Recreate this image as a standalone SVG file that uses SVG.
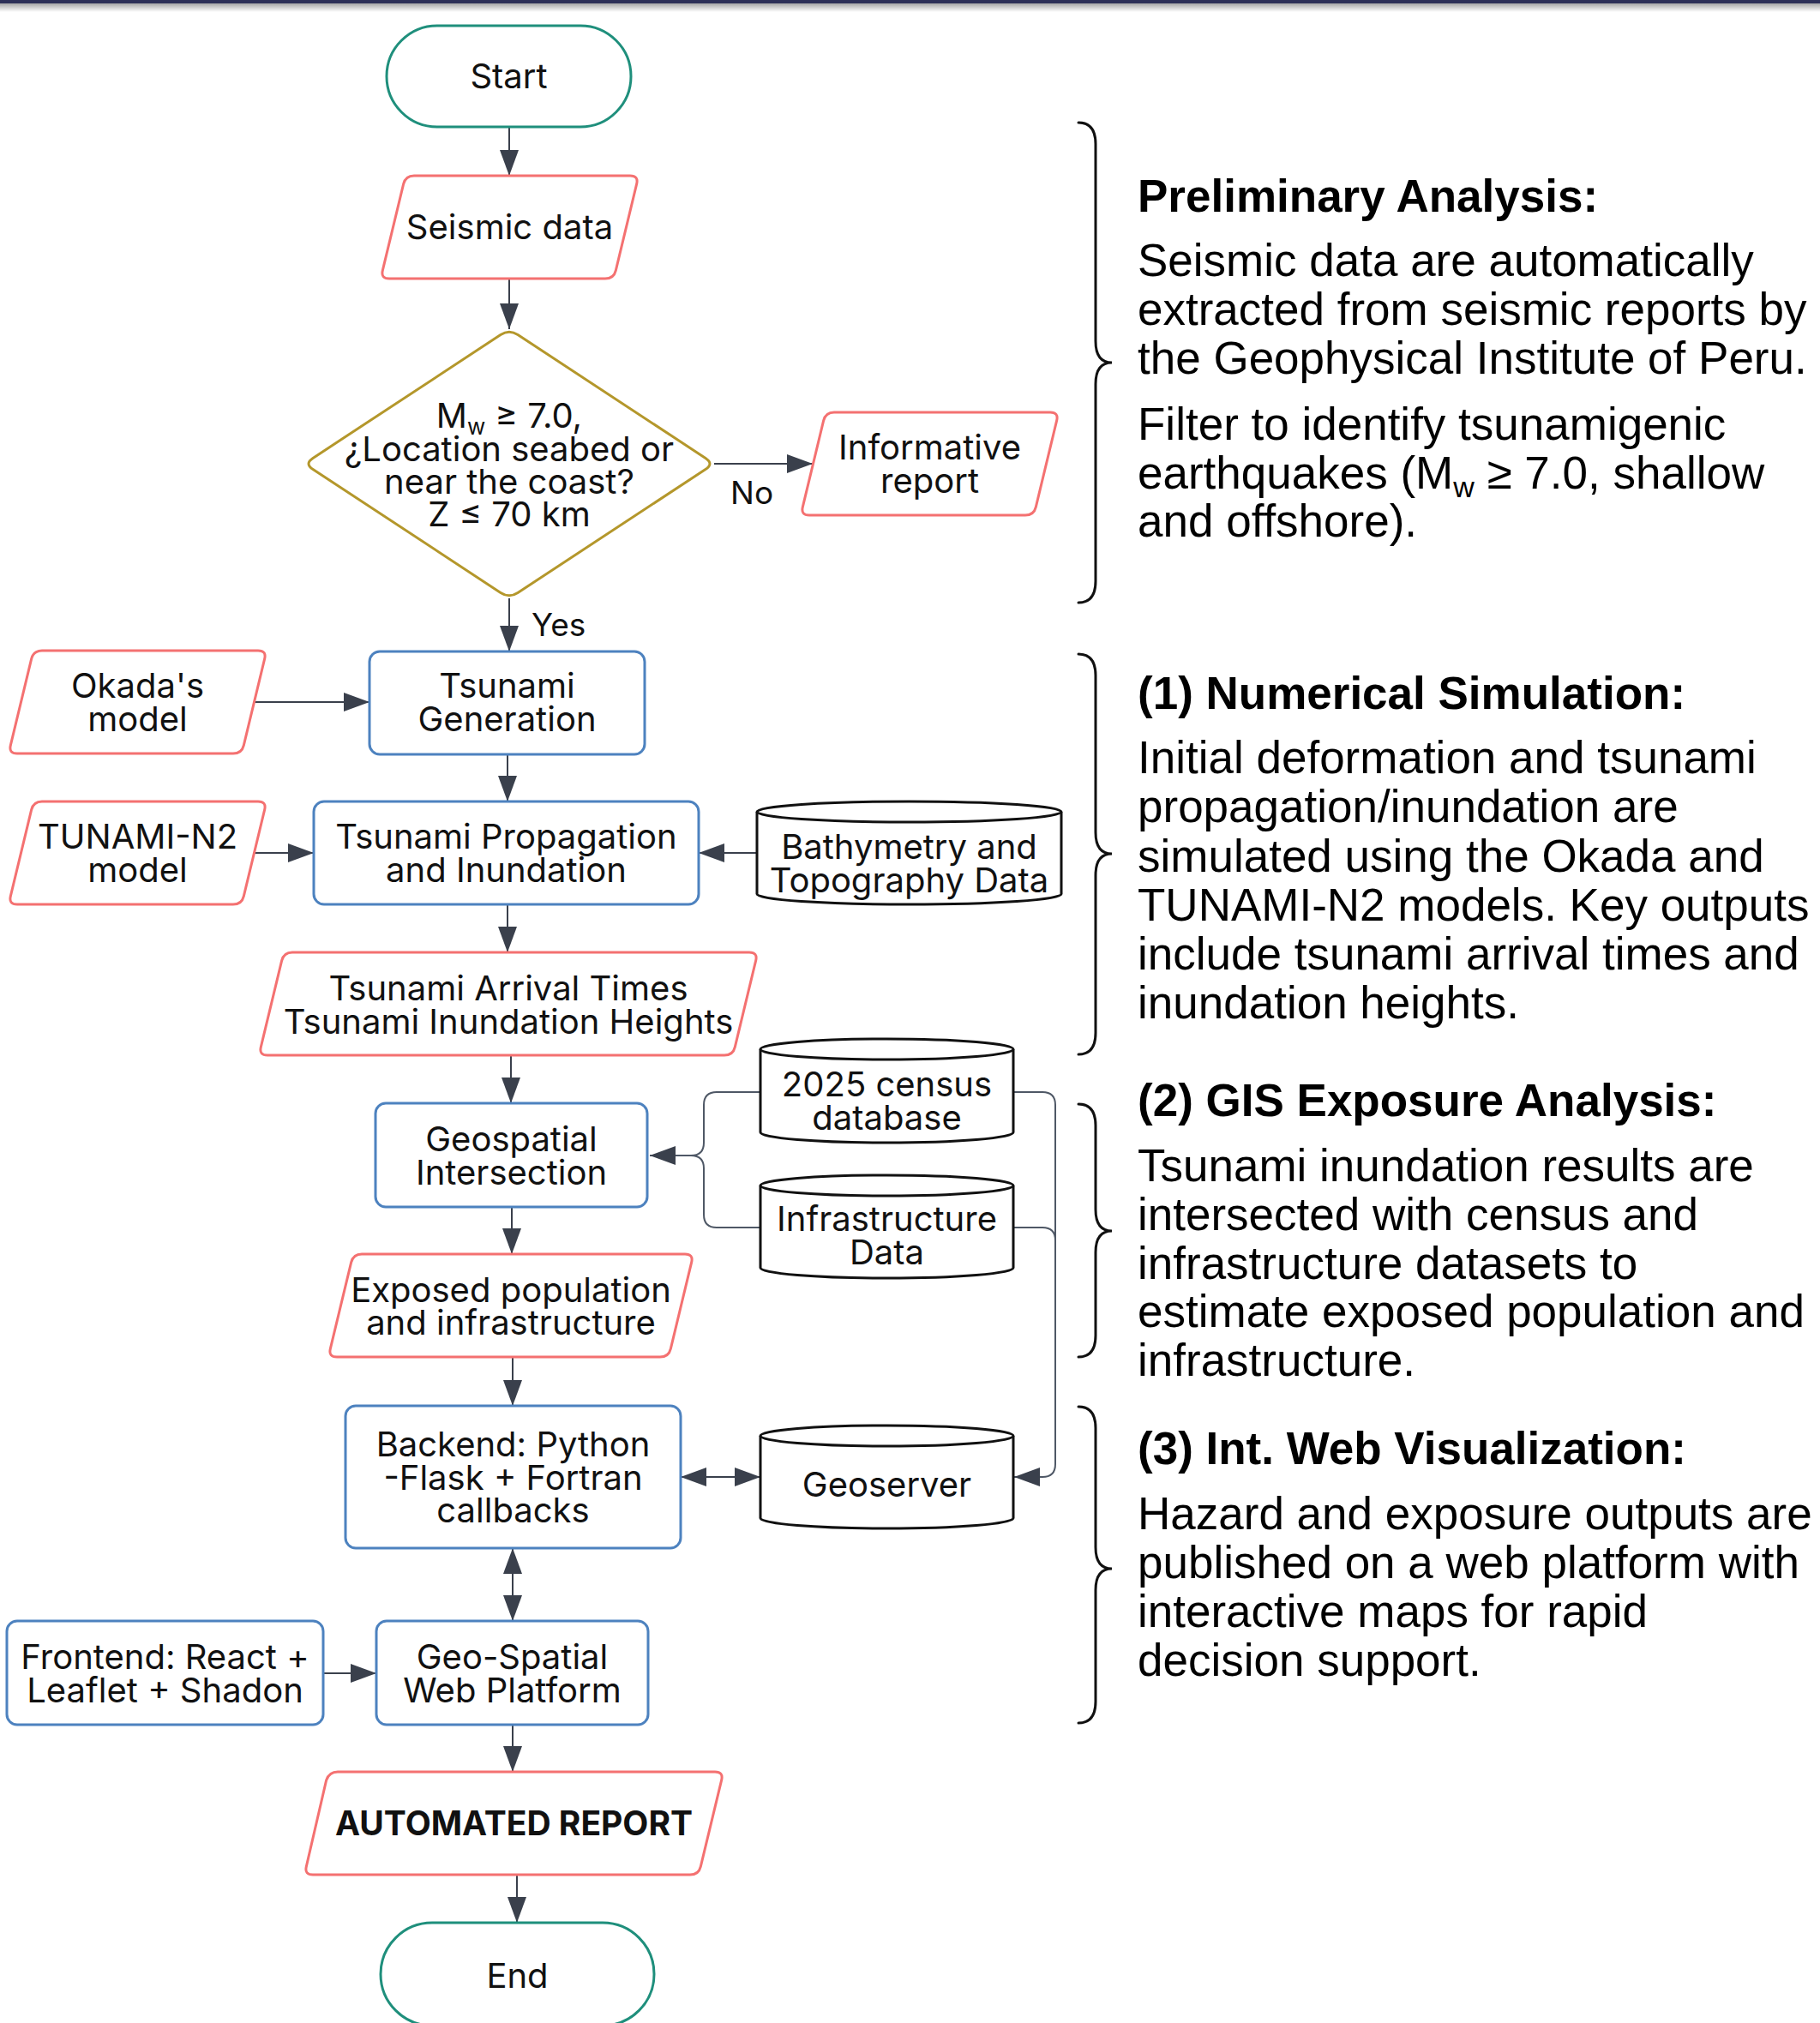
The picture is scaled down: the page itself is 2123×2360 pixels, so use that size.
<svg xmlns="http://www.w3.org/2000/svg" width="2123" height="2360" viewBox="0 0 2123 2360">
<defs>
<marker id="arr" viewBox="0 0 30 22" refX="30" refY="11" markerWidth="30" markerHeight="22" markerUnits="userSpaceOnUse" orient="auto-start-reverse"><path d="M0,0 L30,11 L0,22 Z" fill="#3a404c"/></marker>
<linearGradient id="shadow" x1="0" y1="0" x2="0" y2="1"><stop offset="0" stop-color="#000" stop-opacity="0.35"/><stop offset="1" stop-color="#000" stop-opacity="0"/></linearGradient>
</defs>
<style>
.term{fill:#fff;stroke:#1f8f7c;stroke-width:3}
.io{fill:#fff;stroke:#f47171;stroke-width:3}
.proc{fill:#fff;stroke:#4d82bf;stroke-width:3}
.dec{fill:#fff;stroke:#b4972b;stroke-width:3;stroke-linejoin:round}
.db{fill:#fff;stroke:#111;stroke-width:3}
.t{font-family:Inter,"Noto Sans",sans-serif;font-size:40px;fill:#111;text-anchor:middle}
.bold{font-weight:700;font-size:39px}
.lbl{font-family:Inter,"Noto Sans",sans-serif;font-size:37px;fill:#111}
.c{fill:none;stroke:#3a404c;stroke-width:2}
.thin{fill:none;stroke:#4f5866;stroke-width:2}
.brace{fill:none;stroke:#111;stroke-width:3;stroke-linecap:round}
.h{font-family:"Liberation Sans",Arial,sans-serif;font-size:53px;font-weight:bold;fill:#000}
.b{font-family:"Liberation Sans",Arial,sans-serif;font-size:53px;fill:#000}
</style>
<rect x="0" y="0" width="2123" height="2360" fill="#fff"/>
<rect x="0" y="4" width="2123" height="10" fill="url(#shadow)"/>
<rect x="0" y="0" width="2123" height="4" fill="#2d3057"/>

<g id="connectors">
<line class="c" x1="594" y1="148" x2="594" y2="205" marker-end="url(#arr)"/>
<line class="c" x1="594" y1="325" x2="594" y2="384" marker-end="url(#arr)"/>
<line class="c" x1="833" y1="541" x2="948" y2="541" marker-end="url(#arr)"/>
<line class="c" x1="594" y1="698" x2="594" y2="760" marker-end="url(#arr)"/>
<line class="c" x1="296" y1="819" x2="431" y2="819" marker-end="url(#arr)"/>
<line class="c" x1="592" y1="880" x2="592" y2="935" marker-end="url(#arr)"/>
<line class="c" x1="296" y1="995" x2="366" y2="995" marker-end="url(#arr)"/>
<line class="c" x1="883" y1="995" x2="815" y2="995" marker-end="url(#arr)"/>
<line class="c" x1="592" y1="1055" x2="592" y2="1111" marker-end="url(#arr)"/>
<line class="c" x1="596" y1="1231" x2="596" y2="1287" marker-end="url(#arr)"/>
<path class="thin" d="M887,1274 H836 Q821,1274 821,1289 V1333 Q821,1348 806,1348 H758" marker-end="url(#arr)"/>
<path class="thin" d="M887,1432 H836 Q821,1432 821,1417 V1363 Q821,1348 806,1348"/>
<path class="thin" d="M1182,1274 H1216 Q1231,1274 1231,1289 V1708 Q1231,1723 1216,1723 H1183" marker-end="url(#arr)"/>
<path class="thin" d="M1182,1432 H1216 Q1231,1432 1231,1447"/>
<line class="c" x1="597" y1="1408" x2="597" y2="1463" marker-end="url(#arr)"/>
<line class="c" x1="598" y1="1583" x2="598" y2="1640" marker-end="url(#arr)"/>
<line class="c" x1="794" y1="1723" x2="887" y2="1723" marker-start="url(#arr)" marker-end="url(#arr)"/>
<line class="c" x1="598" y1="1806" x2="598" y2="1891" marker-start="url(#arr)" marker-end="url(#arr)"/>
<line class="c" x1="377" y1="1952" x2="439" y2="1952" marker-end="url(#arr)"/>
<line class="c" x1="598" y1="2012" x2="598" y2="2067" marker-end="url(#arr)"/>
<line class="c" x1="603" y1="2187" x2="603" y2="2243" marker-end="url(#arr)"/>
<text class="lbl" x="852" y="588">No</text>
<text class="lbl" x="620" y="742">Yes</text>
</g>

<g id="start"><rect class="term" x="451" y="30" width="285" height="118" rx="59"/><text class="t" x="593.5" y="103">Start</text></g>
<g id="seismic"><path class="io" d="M483,205 H735 Q745,205 742.65,214.72 L718.35,315.28 Q716,325 706,325 H454 Q444,325 446.35,315.28 L470.65,214.72 Q473,205 483,205 Z"/><text class="t" x="594.5" y="279">Seismic data</text></g>
<g id="decision"><path class="dec" d="M604.03,390.59 L822.97,534.41 Q833,541 822.97,547.59 L604.03,691.41 Q594,698 583.97,691.41 L365.03,547.59 Q355,541 365.03,534.41 L583.97,390.59 Q594,384 604.03,390.59 Z"/>
<text class="t" x="594" y="499">M<tspan font-size="26" dy="8">w</tspan><tspan dy="-8"> ≥ 7.0,</tspan></text>
<text class="t" x="594" y="537.5">¿Location seabed or</text>
<text class="t" x="594" y="576">near the coast?</text>
<text class="t" x="594" y="614">Z ≤ 70 km</text></g>
<g id="informative"><path class="io" d="M973,481 H1225 Q1235,481 1232.65,490.72 L1208.35,591.28 Q1206,601 1196,601 H944 Q934,601 936.35,591.28 L960.65,490.72 Q963,481 973,481 Z"/><text class="t" x="1084.5" y="536">Informative</text><text class="t" x="1084.5" y="575">report</text></g>
<g id="okada"><path class="io" d="M49,759 H301 Q311,759 308.65,768.72 L284.35,869.28 Q282,879 272,879 H20 Q10,879 12.35,869.28 L36.65,768.72 Q39,759 49,759 Z"/><text class="t" x="160.5" y="814">Okada's</text><text class="t" x="160.5" y="852.5">model</text></g>
<g id="generation"><rect class="proc" x="431" y="760" width="321" height="120" rx="12"/><text class="t" x="591.5" y="814">Tsunami</text><text class="t" x="591.5" y="852.5">Generation</text></g>
<g id="tunami"><path class="io" d="M49,935 H301 Q311,935 308.65,944.72 L284.35,1045.28 Q282,1055 272,1055 H20 Q10,1055 12.35,1045.28 L36.65,944.72 Q39,935 49,935 Z"/><text class="t" x="160.5" y="990">TUNAMI-N2</text><text class="t" x="160.5" y="1029">model</text></g>
<g id="propagation"><rect class="proc" x="366" y="935" width="449" height="120" rx="12"/><text class="t" x="590.5" y="990">Tsunami Propagation</text><text class="t" x="590.5" y="1029">and Inundation</text></g>
<g id="bathymetry"><path class="db" d="M883,947 A177.5,12 0 0 1 1238,947 V1043 A177.5,12 0 0 1 883,1043 Z"/><path class="db" fill="none" d="M883,947 A177.5,12 0 0 0 1238,947"/><text class="t" x="1060.5" y="1002">Bathymetry and</text><text class="t" x="1060.5" y="1041">Topography Data</text></g>
<g id="arrival"><path class="io" d="M341,1111 H874 Q884,1111 881.65,1120.72 L857.35,1221.28 Q855,1231 845,1231 H312 Q302,1231 304.35,1221.28 L328.65,1120.72 Q331,1111 341,1111 Z"/><text class="t" x="593" y="1167">Tsunami Arrival Times</text><text class="t" x="593" y="1205.5">Tsunami Inundation Heights</text></g>
<g id="census"><path class="db" d="M887,1224 A147.5,12 0 0 1 1182,1224 V1321 A147.5,12 0 0 1 887,1321 Z"/><path class="db" fill="none" d="M887,1224 A147.5,12 0 0 0 1182,1224"/><text class="t" x="1034.5" y="1279">2025 census</text><text class="t" x="1034.5" y="1318">database</text></g>
<g id="infrastructure"><path class="db" d="M887,1383 A147.5,12 0 0 1 1182,1383 V1479 A147.5,12 0 0 1 887,1479 Z"/><path class="db" fill="none" d="M887,1383 A147.5,12 0 0 0 1182,1383"/><text class="t" x="1034.5" y="1436">Infrastructure</text><text class="t" x="1034.5" y="1475">Data</text></g>
<g id="geospatial"><rect class="proc" x="438" y="1287" width="317" height="121" rx="12"/><text class="t" x="596.5" y="1343">Geospatial</text><text class="t" x="596.5" y="1381.5">Intersection</text></g>
<g id="exposed"><path class="io" d="M422,1463 H799 Q809,1463 806.65,1472.72 L782.35,1573.28 Q780,1583 770,1583 H393 Q383,1583 385.35,1573.28 L409.65,1472.72 Q412,1463 422,1463 Z"/><text class="t" x="596" y="1519">Exposed population</text><text class="t" x="596" y="1557">and infrastructure</text></g>
<g id="backend"><rect class="proc" x="403" y="1640" width="391" height="166" rx="12"/><text class="t" x="598.5" y="1699">Backend: Python</text><text class="t" x="598.5" y="1737.5">-Flask + Fortran</text><text class="t" x="598.5" y="1776">callbacks</text></g>
<g id="geoserver"><path class="db" d="M887,1675 A147.5,12 0 0 1 1182,1675 V1771 A147.5,12 0 0 1 887,1771 Z"/><path class="db" fill="none" d="M887,1675 A147.5,12 0 0 0 1182,1675"/><text class="t" x="1034.5" y="1746">Geoserver</text></g>
<g id="frontend"><rect class="proc" x="8" y="1891" width="369" height="121" rx="12"/><text class="t" x="192.5" y="1947">Frontend: React +</text><text class="t" x="192.5" y="1985.5">Leaflet + Shadon</text></g>
<g id="webplatform"><rect class="proc" x="439" y="1891" width="317" height="121" rx="12"/><text class="t" x="597.5" y="1947">Geo-Spatial</text><text class="t" x="597.5" y="1985.5">Web Platform</text></g>
<g id="report"><path class="io" d="M394,2067 H834 Q844,2067 841.65,2076.72 L817.35,2177.28 Q815,2187 805,2187 H365 Q355,2187 357.35,2177.28 L380.65,2076.72 Q384,2067 394,2067 Z"/><text class="t bold" x="599.5" y="2141">AUTOMATED REPORT</text></g>
<g id="end"><rect class="term" x="444" y="2243" width="319" height="120" rx="60"/><text class="t" x="603.5" y="2319">End</text></g>

<g id="annotations">
<path class="brace" d="M1258,143 Q1278,143 1278,168 V398 Q1278,423 1297,423 Q1278,423 1278,448 V678 Q1278,703 1258,703"/>
<path class="brace" d="M1258,763 Q1278,763 1278,788 V971 Q1278,996 1297,996 Q1278,996 1278,1021 V1205 Q1278,1230 1258,1230"/>
<path class="brace" d="M1258,1288 Q1278,1288 1278,1313 V1411 Q1278,1436 1297,1436 Q1278,1436 1278,1461 V1558 Q1278,1583 1258,1583"/>
<path class="brace" d="M1258,1641 Q1278,1641 1278,1666 V1805 Q1278,1830 1297,1830 Q1278,1830 1278,1855 V1985 Q1278,2010 1258,2010"/>
<text class="h" x="1327" y="247">Preliminary Analysis:</text>
<text class="b" x="1327" y="322">Seismic data are automatically</text>
<text class="b" x="1327" y="379">extracted from seismic reports by</text>
<text class="b" x="1327" y="436">the Geophysical Institute of Peru.</text>
<text class="b" x="1327" y="513">Filter to identify tsunamigenic</text>
<text class="b" x="1327" y="570">earthquakes (M<tspan font-size="34" dy="10">w</tspan><tspan dy="-10"> ≥ 7.0, shallow</tspan></text>
<text class="b" x="1327" y="626">and offshore).</text>
<text class="h" x="1327" y="827">(1) Numerical Simulation:</text>
<text class="b" x="1327" y="902">Initial deformation and tsunami</text>
<text class="b" x="1327" y="959">propagation/inundation are</text>
<text class="b" x="1327" y="1017">simulated using the Okada and</text>
<text class="b" x="1327" y="1074">TUNAMI-N2 models. Key outputs</text>
<text class="b" x="1327" y="1131">include tsunami arrival times and</text>
<text class="b" x="1327" y="1188">inundation heights.</text>
<text class="h" x="1327" y="1302">(2) GIS Exposure Analysis:</text>
<text class="b" x="1327" y="1378">Tsunami inundation results are</text>
<text class="b" x="1327" y="1435">intersected with census and</text>
<text class="b" x="1327" y="1492">infrastructure datasets to</text>
<text class="b" x="1327" y="1548">estimate exposed population and</text>
<text class="b" x="1327" y="1605">infrastructure.</text>
<text class="h" x="1327" y="1708">(3) Int. Web Visualization:</text>
<text class="b" x="1327" y="1784">Hazard and exposure outputs are</text>
<text class="b" x="1327" y="1841">published on a web platform with</text>
<text class="b" x="1327" y="1898">interactive maps for rapid</text>
<text class="b" x="1327" y="1955">decision support.</text>
</g>
</svg>
